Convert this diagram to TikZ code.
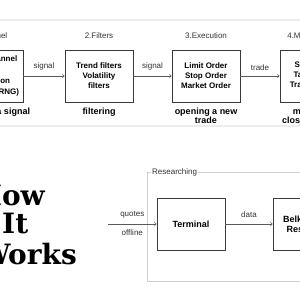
\documentclass[tikz,border=0pt]{standalone}
\usepackage{fontspec}
\setmainfont{Liberation Sans}
\newfontfamily\slabfont{DejaVu Serif}
\usetikzlibrary{positioning}
\definecolor{boxgray}{HTML}{3A3A3A}
\definecolor{arrowgray}{HTML}{5A5A5A}
\definecolor{labelgray}{HTML}{333333}
\definecolor{framegray}{HTML}{CFCFCF}
\definecolor{sepgray}{HTML}{EDEDED}
\begin{document}
\begin{tikzpicture}[x=1pt, y=-1pt,
    stage/.style={draw=boxgray, line width=0.8pt, minimum width=68pt, minimum height=52pt,
        align=center, inner sep=2pt, font=\bfseries\fontsize{8}{10}\selectfont},
    title/.style={font=\fontsize{8}{10}\selectfont, text=labelgray, inner sep=0pt, text depth=0pt},
    caption/.style={font=\bfseries\fontsize{9}{9.5}\selectfont, align=center, inner sep=0pt},
    flow/.style={->, >=to, draw=arrowgray, line width=0.7pt},
    lbl/.style={font=\fontsize{8}{10}\selectfont, text=labelgray},
    headline/.style={font=\slabfont\bfseries\fontsize{28}{30}\selectfont, inner sep=0pt}]
        \useasboundingbox (0,0) rectangle (300,300);
        \clip (0,0) rectangle (300,300);

        % Pasy oddzielające
        \fill[sepgray] (0,19) rectangle (300,21);
        \fill[sepgray] (0,125) rectangle (300,127);

        % Etapy
        \node[stage, font=\bfseries\fontsize{8}{11}\selectfont] (chan) at (-11,76) {Signal channel\\or\\Generation\\random (PRNG)};
        \node[stage] (filt) at (99,76) {Trend filters\\Volatility\\filters};
        \node[stage] (exec) at (206,76) {Limit Order\\Stop Order\\Market Order};
        \node[stage] (mgmt) at (314,76) {Stop Loss\\Take Profit\\Trailing Stop};

        \node[title, above=11pt of chan] (chantitle) {1.Channel};
        \node[title, above=11pt of filt] (filttitle) {2.Filters};
        \node[title, above=11pt of exec] (exectitle) {3.Execution};
        \node[title, above=11pt of mgmt] (mgmttitle) {4.Management};

        \node[caption, below=5pt of chan] (chancap) {generating a signal};
        \node[caption, below=5pt of filt] (filtcap) {filtering};
        \node[caption, below=5pt of exec] (execcap) {opening a new\\trade};
        \node[caption, below=5pt of mgmt] (mgmtcap) {managing\\closing a trade};

        \draw[flow] (chan) -- (filt) node[lbl, midway, above=2pt] {signal};
        \draw[flow] (filt) -- (exec) node[lbl, midway, above=2pt] {signal};
        \draw[flow] (exec) -- (mgmt) node[lbl, midway, above=2pt] {trade};

        % Tytuł
        \node[headline, anchor=base east] (how) at (45,205) {How};
        \node[headline, anchor=base west] (it) at (2,233) {It};
        \node[headline, anchor=base east] (works) at (77,264) {Works};

        % Ramka badań
        \draw[framegray, line width=0.7pt] (147,172) rectangle (310,281);
        \node[lbl, fill=white, anchor=west, inner sep=1pt] (research) at (151,172) {Researching};

        \node[stage, font=\bfseries\fontsize{9}{10}\selectfont] (term) at (191,224) {Terminal};
        \node[stage, font=\bfseries\fontsize{9}{10}\selectfont] (belk) at (307,224) {Belkhayate\\Research};
        \coordinate (src) at (108,224);

        \draw[flow] (src) -- (term)
            node[lbl, midway, above=2pt] {quotes}
            node[lbl, midway, below=2pt] {offline};
        \draw[flow] (term) -- (belk) node[lbl, midway, above=3pt] {data};
    \end{tikzpicture}
\end{document}
